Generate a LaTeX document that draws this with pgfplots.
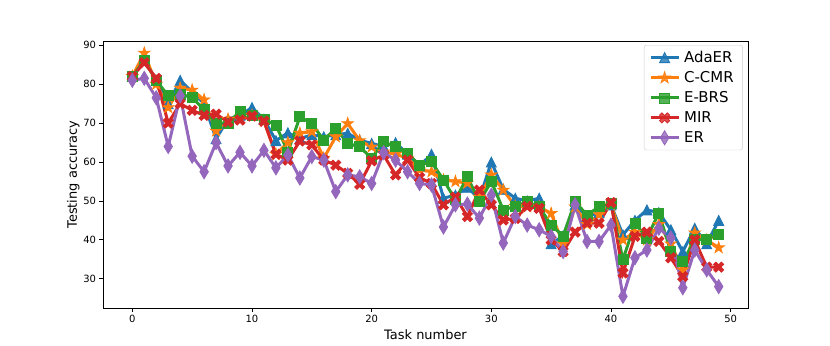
\documentclass[border=0pt]{standalone}
\usepackage{fontspec}
\setmainfont{DejaVu Sans}
\usepackage{pgfplots}
\usepackage{pgfplotstable}
\pgfplotsset{compat=1.18}

\definecolor{c0}{RGB}{31,119,180}
\definecolor{c1}{RGB}{255,127,14}
\definecolor{c2}{RGB}{44,160,44}
\definecolor{c3}{RGB}{214,39,40}
\definecolor{c4}{RGB}{148,103,189}

% matplotlib-like filled markers
\pgfdeclareplotmark{mtri}{%
  \pgfpathmoveto{\pgfpoint{0pt}{\pgfplotmarksize}}%
  \pgfpathlineto{\pgfpoint{-\pgfplotmarksize}{-\pgfplotmarksize}}%
  \pgfpathlineto{\pgfpoint{\pgfplotmarksize}{-\pgfplotmarksize}}%
  \pgfpathclose\pgfusepathqfillstroke}
\pgfdeclareplotmark{mstar}{%
  \pgfpathmoveto{\pgfpointpolar{90}{\pgfplotmarksize}}%
  \pgfpathlineto{\pgfpointpolar{126}{0.382\pgfplotmarksize}}%
  \pgfpathlineto{\pgfpointpolar{162}{\pgfplotmarksize}}%
  \pgfpathlineto{\pgfpointpolar{198}{0.382\pgfplotmarksize}}%
  \pgfpathlineto{\pgfpointpolar{234}{\pgfplotmarksize}}%
  \pgfpathlineto{\pgfpointpolar{270}{0.382\pgfplotmarksize}}%
  \pgfpathlineto{\pgfpointpolar{306}{\pgfplotmarksize}}%
  \pgfpathlineto{\pgfpointpolar{342}{0.382\pgfplotmarksize}}%
  \pgfpathlineto{\pgfpointpolar{18}{\pgfplotmarksize}}%
  \pgfpathlineto{\pgfpointpolar{54}{0.382\pgfplotmarksize}}%
  \pgfpathclose\pgfusepathqfillstroke}
\pgfdeclareplotmark{mx}{%
  \pgftransformrotate{45}%
  \pgfpathmoveto{\pgfpoint{0.3\pgfplotmarksize}{0.3\pgfplotmarksize}}%
  \pgfpathlineto{\pgfpoint{0.3\pgfplotmarksize}{\pgfplotmarksize}}%
  \pgfpathlineto{\pgfpoint{-0.3\pgfplotmarksize}{\pgfplotmarksize}}%
  \pgfpathlineto{\pgfpoint{-0.3\pgfplotmarksize}{0.3\pgfplotmarksize}}%
  \pgfpathlineto{\pgfpoint{-\pgfplotmarksize}{0.3\pgfplotmarksize}}%
  \pgfpathlineto{\pgfpoint{-\pgfplotmarksize}{-0.3\pgfplotmarksize}}%
  \pgfpathlineto{\pgfpoint{-0.3\pgfplotmarksize}{-0.3\pgfplotmarksize}}%
  \pgfpathlineto{\pgfpoint{-0.3\pgfplotmarksize}{-\pgfplotmarksize}}%
  \pgfpathlineto{\pgfpoint{0.3\pgfplotmarksize}{-\pgfplotmarksize}}%
  \pgfpathlineto{\pgfpoint{0.3\pgfplotmarksize}{-0.3\pgfplotmarksize}}%
  \pgfpathlineto{\pgfpoint{\pgfplotmarksize}{-0.3\pgfplotmarksize}}%
  \pgfpathlineto{\pgfpoint{\pgfplotmarksize}{0.3\pgfplotmarksize}}%
  \pgfpathclose\pgfusepathqfillstroke}
\pgfdeclareplotmark{mdiam}{%
  \pgfpathmoveto{\pgfpoint{0pt}{1.414\pgfplotmarksize}}%
  \pgfpathlineto{\pgfpoint{0.85\pgfplotmarksize}{0pt}}%
  \pgfpathlineto{\pgfpoint{0pt}{-1.414\pgfplotmarksize}}%
  \pgfpathlineto{\pgfpoint{-0.85\pgfplotmarksize}{0pt}}%
  \pgfpathclose\pgfusepathqfillstroke}

\pgfplotstableread{
x ada ccmr ebrs mir er
0 82 82 82 82 81
1 86.5 88 86 85.5 81.5
2 81 80 81 81.5 76.5
3 75 74 77 70 64
4 81 79 77.5 75 77
5 78 78.5 76.5 73.3 61.5
6 75 76 73.5 72 57.5
7 66 68 70 72.3 65
8 71 71 70 70.3 59
9 72 71 73 70.8 62.5
10 74 72 72 71.8 59
11 71 70.5 71 70.5 63
12 65.5 62 69.5 62 58.5
13 67.5 65 62.6 60.5 61.8
14 66 67.4 71.6 65.4 55.9
15 67 67.8 69.9 64.4 61.4
16 66.5 61 65.6 60.5 60.5
17 67 66.5 68.7 59.2 52.4
18 67.4 69.9 64.8 57.1 56.7
19 65.6 65.5 63.9 54.3 56.2
20 64.8 63.9 61 60.3 54.5
21 64 62.6 65.2 61.8 62.4
22 65 62 63.9 56.7 60.5
23 62 61 62.2 60.5 57.5
24 59 58 59.2 56 54.5
25 62 57.5 60.1 54.5 54.1
26 50.7 55.4 55.4 49 43.3
27 51.5 55 50.3 51 49
28 53.5 54.6 56.2 46 49.2
29 50.5 51 49.8 52.8 45.6
30 60 56.7 55 49 51.5
31 53 52.8 47.7 45.1 39.2
32 50.7 48.6 48.6 45.5 46
33 50 48.5 49.8 48.6 43.8
34 50.7 48.5 48.5 48.1 42.6
35 39 46.8 43.8 40 40.9
36 41 39 41 37 37
37 49 48.5 49.8 42 49
38 46 44 46.4 44.3 39.6
39 47 46.5 48.5 44.3 39.6
40 49 49 49.3 49.6 43.8
41 41.3 40 34.9 31.5 25.5
42 45 42 44.3 40.9 35.4
43 47.7 40 40.5 42 37.4
44 47 44 46.9 39.6 43
45 42.6 39 37 35.4 40.5
46 37 32.3 34.4 30.6 27.7
47 43 41.8 40 40 37.4
48 39 40 40.2 33 32.3
49 45 38 41.3 33 28
}\accdata

\begin{document}
\begin{tikzpicture}
\path[use as bounding box] (-103bp,-38bp) rectangle (727bp,308bp);
\begin{axis}[
  at={(0,0)}, anchor=south west,
  scale only axis,
  width=645bp, height=267bp,
  xmin=-2.45, xmax=51.45,
  ymin=22.5, ymax=91.1,
  xtick={0,10,20,30,40,50},
  ytick={30,40,50,60,70,80,90},
  tick align=outside,
  tick pos=left,
  major tick length=3.5bp,
  axis line style={line width=0.8bp},
  every tick/.style={black, line width=0.8bp},
  /pgf/number format/assume math mode=true,
  ticklabel style={font=\fontsize{10}{12}\selectfont},
  label style={font=\fontsize{13}{15}\selectfont},
  ylabel style={yshift=-3bp},
  xlabel={Task number},
  ylabel={Testing accuracy},
  legend cell align=left,
  legend style={
    at={(0.992,0.985)}, anchor=north east,
    draw=black!20, rounded corners=2.5bp,
    fill=white, fill opacity=0.8, text opacity=1,
    font=\fontsize{15}{17}\selectfont,
    inner xsep=5bp, inner ysep=4bp,
    nodes={inner xsep=4bp, inner ysep=2bp},
    row sep=3.5bp,
  },
  legend image code/.code={%
    \draw[mark repeat=2,mark phase=2] plot coordinates {(0bp,0bp) (14bp,0bp) (28bp,0bp)};},
  every axis plot/.append style={line width=3bp},
]
\addplot[c0, mark=mtri, mark size=5bp, mark options={solid, line width=0.8bp, fill=c0}] table[x=x, y=ada]{\accdata};
\addlegendentry{AdaER}
\addplot[c1, mark=mstar, mark size=6bp, mark options={solid, line width=0.8bp, fill=c1}] table[x=x, y=ccmr]{\accdata};
\addlegendentry{C-CMR}
\addplot[c2, mark=square*, mark size=5bp, mark options={solid, line width=0.8bp, fill=c2}] table[x=x, y=ebrs]{\accdata};
\addlegendentry{E-BRS}
\addplot[c3, mark=mx, mark size=5.5bp, mark options={solid, line width=0.8bp, fill=c3}] table[x=x, y=mir]{\accdata};
\addlegendentry{MIR}
\addplot[c4, mark=mdiam, mark size=5bp, mark options={solid, line width=0.8bp, fill=c4}] table[x=x, y=er]{\accdata};
\addlegendentry{ER}
\end{axis}
\end{tikzpicture}
\end{document}
